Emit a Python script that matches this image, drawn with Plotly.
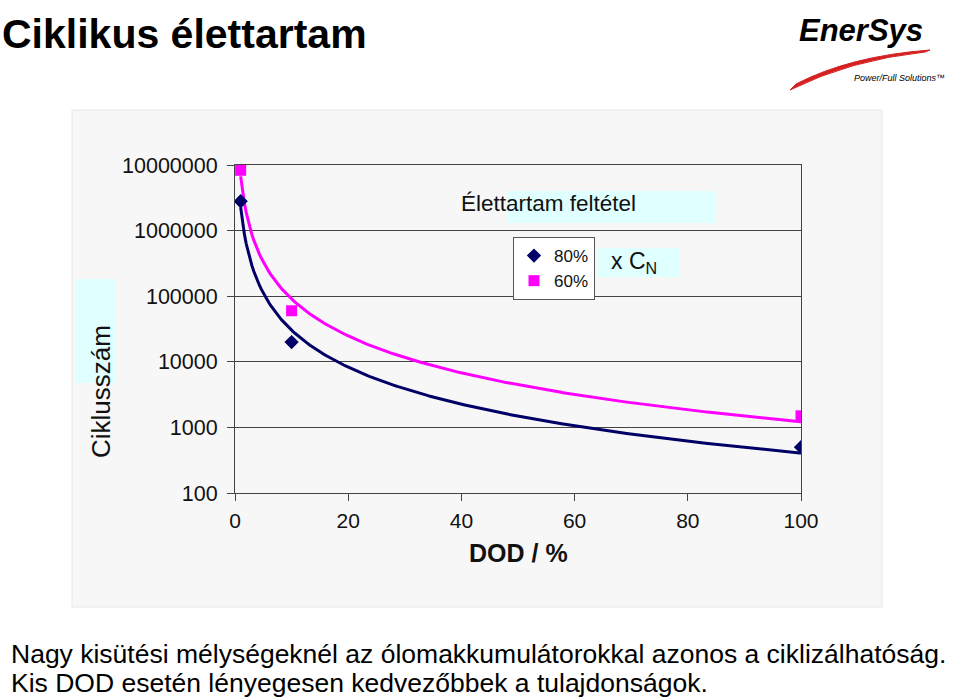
import numpy as np
import plotly.graph_objects as go

W, H = 960, 699
PL, PR, PT, PB = 235, 801, 165, 493  # plot area in pixels

# ---- data ----
dod = [1, 10, 100]
cycles_80 = [2.8e6, 2.0e4, 500]
cycles_60 = [8.3e6, 6.0e4, 1500]
series_names = ["80%", "60%"]
x_ticks = [0, 20, 40, 60, 80, 100]
y_ticks = [100, 1000, 10000, 100000, 1000000, 10000000]
y_tick_text = ["100", "1000", "10000", "100000", "1000000", "10000000"]

NAVY = "#000066"
MAGENTA = "#ff00ff"


def power_fit(x, y):
    b, a = np.polyfit(np.log10(x), np.log10(y), 1)
    xs = np.linspace(min(x), max(x), 300)
    return xs, 10 ** (a + b * np.log10(xs))


def px(x):
    return (x - PL) / (PR - PL)


def py(y):
    return (PB - y) / (PB - PT)


fig = go.Figure()

for ys, col in [(cycles_80, NAVY), (cycles_60, MAGENTA)]:
    xs, yf = power_fit(dod, ys)
    fig.add_trace(go.Scatter(x=xs, y=yf, mode="lines", line=dict(color=col, width=3),
                             showlegend=False, hoverinfo="skip"))

fig.add_trace(go.Scatter(x=dod, y=cycles_80, mode="markers", name=series_names[0],
                         marker=dict(symbol="diamond", color=NAVY, size=11)))
fig.add_trace(go.Scatter(x=dod, y=cycles_60, mode="markers", name=series_names[1],
                         marker=dict(symbol="square", color=MAGENTA, size=11)))

shapes = []
# grey chart panel
shapes.append(dict(type="rect", xref="paper", yref="paper", layer="below",
                   x0=px(72), x1=px(882), y0=py(607), y1=py(110),
                   fillcolor="#f7f7f7", line=dict(color="#e6e6e6", width=1)))
# cyan boxes
for (x0, x1, y0, y1) in [(507, 715, 191, 223), (598, 680, 248, 277), (76, 116, 279, 383)]:
    shapes.append(dict(type="rect", xref="paper", yref="paper", layer="below",
                       x0=px(x0), x1=px(x1), y0=py(y1), y1=py(y0),
                       fillcolor="#e0ffff", line=dict(width=0)))
# logo swoosh
shapes.append(dict(type="path", xref="paper", yref="paper", layer="above",
                   path=(f"M {px(790)},{py(90)} Q {px(850)},{py(60)} {px(925)},{py(52)} "
                         f"L {px(930)},{py(50)} Q {px(850)},{py(56)} {px(796)},{py(84)} Z"),
                   fillcolor="#d42020", line=dict(color="#d42020", width=1)))

annotations = [
    dict(text="<b>Ciklikus élettartam</b>", x=px(0), y=py(34), xref="paper", yref="paper",
         xanchor="left", yanchor="middle", showarrow=False,
         font=dict(family="Liberation Sans, Arial", size=41, color="black")),
    dict(text="<b><i>EnerSys</i></b>", x=px(861), y=py(30), xref="paper", yref="paper",
         xanchor="center", yanchor="middle", showarrow=False,
         font=dict(family="Liberation Sans, Arial", size=31, color="black")),
    dict(text="<i>Power/Full Solutions™</i>", x=px(852), y=py(78), xref="paper", yref="paper",
         xanchor="left", yanchor="middle", showarrow=False,
         font=dict(family="Liberation Sans, Arial", size=9, color="black")),
    dict(text="Élettartam feltétel", x=px(459), y=py(203), xref="paper", yref="paper",
         xanchor="left", yanchor="middle", showarrow=False,
         font=dict(family="Liberation Sans, Arial", size=22.5, color="#111")),
    dict(text="x C<sub>N</sub>", x=px(609), y=py(262), xref="paper", yref="paper",
         xanchor="left", yanchor="middle", showarrow=False,
         font=dict(family="Liberation Sans, Arial", size=23, color="#111")),
    dict(text="Ciklusszám", x=px(101), y=py(392), xref="paper", yref="paper",
         xanchor="center", yanchor="middle", showarrow=False, textangle=-90,
         font=dict(family="Liberation Sans, Arial", size=26, color="#111")),
    dict(text="<b>DOD / %</b>", x=px(518), y=py(553), xref="paper", yref="paper",
         xanchor="center", yanchor="middle", showarrow=False,
         font=dict(family="Liberation Sans, Arial", size=25, color="#111")),
    dict(text="Nagy kisütési mélységeknél az ólomakkumulátorokkal azonos a ciklizálhatóság.",
         x=px(9), y=py(654), xref="paper", yref="paper", xanchor="left", yanchor="middle",
         showarrow=False, font=dict(family="Liberation Sans, Arial", size=26.5, color="black")),
    dict(text="Kis DOD esetén lényegesen kedvezőbbek a tulajdonságok.",
         x=px(9), y=py(683), xref="paper", yref="paper", xanchor="left", yanchor="middle",
         showarrow=False, font=dict(family="Liberation Sans, Arial", size=26.5, color="black")),
]

fig.update_layout(
    width=W, height=H,
    margin=dict(l=PL, r=W - PR, t=PT, b=H - PB),
    paper_bgcolor="white", plot_bgcolor="#f7f7f7",
    font=dict(family="Liberation Sans, Arial", color="#111"),
    showlegend=True,
    legend=dict(x=px(513), y=py(237), xanchor="left", yanchor="top",
                bgcolor="white", bordercolor="#555", borderwidth=1,
                font=dict(size=17, color="#111"), itemwidth=30,
                tracegroupgap=0),
    shapes=shapes, annotations=annotations,
    xaxis=dict(range=[0, 100], tickvals=x_ticks, showgrid=False, zeroline=False,
               showline=True, linecolor="#444", linewidth=1, mirror=True,
               ticks="outside", ticklen=7, tickcolor="#444", ticklabelstandoff=2,
               tickfont=dict(size=21, color="#111")),
    yaxis=dict(type="log", range=[2, 7], tickvals=y_ticks, ticktext=y_tick_text,
               showgrid=True, gridcolor="#444", gridwidth=1, zeroline=False,
               showline=True, linecolor="#444", linewidth=1, mirror=True,
               ticks="outside", ticklen=7, tickcolor="#444", ticklabelstandoff=5,
               tickfont=dict(size=21.5, color="#111")),
)

fig.write_html("out.html")
